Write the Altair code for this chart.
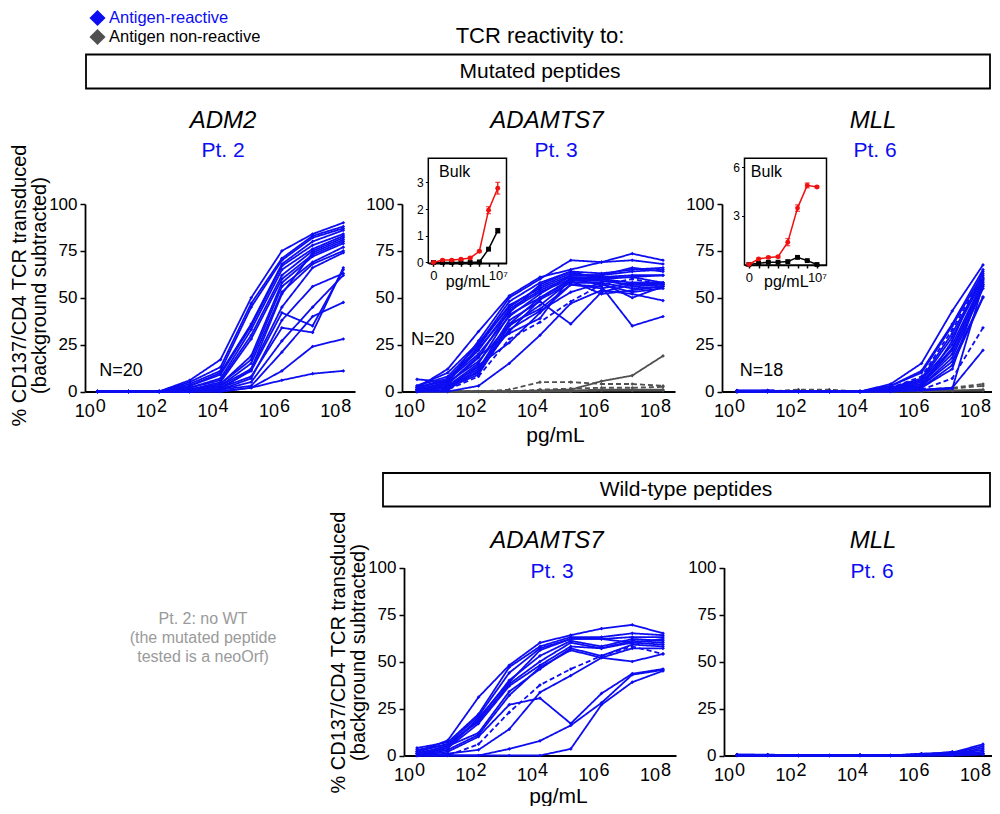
import altair as alt
import pandas as pd

FONT = "Liberation Sans"
BLUE = "#0d0df2"
GRAY = "#505050"
W, H = 984, 798

EXPS = [0, 1, 2, 3, 4, 5, 6, 7, 8]          # concentration 10^e pg/mL
LABEL_EXPS = [0, 2, 4, 6, 8]

# ---------------- Mutated ADM2, Pt. 2 -----------------
ADM2_MUT = [
    [0, 0, 0, 6, 17, 50, 75, 84, 90],
    [0, 0, 0, 5, 13, 47, 71, 83, 88],
    [0, 0, 0, 4, 11, 45, 70, 82, 87],
    [0, 0, 0, 3, 10, 36, 68, 80, 86],
    [0, 0, 0, 3, 9, 35, 67, 78, 84],
    [0, 0, 0, 2, 7, 33, 65, 76, 83],
    [0, 0, 0, 2, 6, 30, 62, 75, 82],
    [0, 0, 0, 1, 5, 28, 60, 73, 80],
    [0, 0, 0, 1, 4, 19, 58, 72, 79],
    [0, 0, 0, 1, 4, 17, 56, 69, 77],
    [0, 0, 0, 1, 3, 15, 53, 68, 75],
    [0, 0, 0, 0, 3, 12, 45, 66, 74],
    [0, 0, 0, 0, 2, 11, 42, 35, 65],
    [0, 0, 0, 0, 2, 8, 34, 31.5, 66],
    [0, 0, 0, 0, 1, 7, 38, 56, 63],
    [0, 0, 0, 0, 1, 5, 27, 45, 62],
    [0, 0, 0, 0, 1, 3, 21, 40, 47.5],
    [0, 0, 0, 0, 0, 2, 11, 24, 28],
    [0, 0, 0, 0, 0, 2, 6, 9.5, 11],
    [0, 0, 0, 0, 1, 12, 52, 74, 81],
]
ADM2_MUT_DASH = [False] * 20

# ---------------- Mutated ADAMTS7, Pt. 3 -----------------
ADAMTS7_MUT = [
    [2, 12, 32, 51, 61, 65, 69, 73.5, 70],
    [6.5, 5, 27, 50, 60, 70, 69, 70, 68],
    [3, 8, 25, 48, 58, 64, 63, 65, 66],
    [1, 5, 24, 46, 55, 62, 62, 64, 65],
    [2, 6, 22, 44, 54, 61, 61, 61, 62],
    [1, 4, 18, 43, 53, 60, 60, 58, 58],
    [0, 3, 15, 41, 50, 59, 59, 57, 57.5],
    [1, 2, 12, 38, 48, 36, 53, 57, 57],
    [0, 1, 11, 36, 44, 57, 56, 35, 40],
    [1, 3, 10, 33, 43, 53, 58, 55, 56],
    [0, 1, 8, 28, 37, 48, 57, 60, 57],
    [0, 0, 3, 15, 30, 47, 54, 52, 48.5],
    [2, 6, 20, 40, 52, 62, 62, 66, 64],
    [1, 5, 16, 36, 50, 60, 57, 53, 55],
    [0, 3, 13, 32, 49, 58, 58, 50, 56],
    [3, 10, 26, 45, 56, 63, 61, 62, 62],
    [1, 4, 19, 31, 39, 61, 60, 56, 57],
    [0, 2, 14, 26, 42, 57, 55, 58, 58],
    [2, 7, 23, 42, 57, 64, 60, 61, 58],
    [1, 2, 9, 35, 46, 59, 52, 54, 56],
]
ADAMTS7_MUT_DASH = [False] * 10 + [True] + [False] * 9
ADAMTS7_MUT_NR = [
    [0, 0, 0, 0, 0.5, 1, 5.5, 8.5, 19],
    [0, 0, 0, 1, 5, 5, 4, 4, 3],
    [0, 0, 0, 0, 1, 1.5, 2, 2, 2.5],
    [0, 0, 0, 0, 0, 0.5, 1, 1, 1],
    [0, 0, 0, 0, 0, 0, 0.5, 0.5, 0.5],
]
ADAMTS7_MUT_NR_DASH = [False, True, True, False, False]

# ---------------- Mutated MLL, Pt. 6 -----------------
MLL_MUT = [
    [0.5, 0.5, 0, 0, 0, 4, 15, 43, 67.5],
    [0.5, 0.5, 0, 0, 0, 3, 11, 36, 65],
    [0.5, 0.5, 0, 0, 0, 3, 10, 35, 63],
    [0, 0.5, 0, 0, 0, 2, 8, 33, 62],
    [0, 0, 0, 0, 0, 2, 7, 31, 61],
    [0, 0, 0, 0, 0, 2, 6, 29, 60],
    [0, 0, 0, 0, 0, 1, 6, 25, 59],
    [0, 0, 0, 0, 0, 1, 5, 23, 58],
    [0, 0, 0, 0, 0, 1, 4, 22, 57],
    [0, 0, 0, 0, 0, 1, 4, 20, 56],
    [0, 0, 0, 0, 0, 1, 3, 18, 55],
    [0, 0, 0, 0, 0, 0.5, 3, 16, 50.5],
    [0, 0, 0, 0, 0, 0.5, 2, 14, 50],
    [0, 0, 0, 0, 0, 0.5, 2, 12, 60],
    [0, 0, 0, 0, 0, 0.5, 1, 7, 34],
    [0, 0, 0, 0, 0, 0, 1, 2, 22],
    [0, 0, 0, 0, 0, 0, 0.5, 1.5, 57],
    [0, 0, 0, 0, 0, 0.5, 2, 27, 64],
]
MLL_MUT_DASH = [False, False, False, True] + [False] * 10 + [True] + [False] * 3
MLL_MUT_NR = [
    [0, 0, 1, 1, 0, 0.5, 1, 2, 4],
    [0, 0, 0.5, 0.5, 0, 0.5, 0.5, 1.5, 3],
    [0, 0, 0, 0, 0, 0, 0.5, 0.5, 1],
    [0, 0, 0, 0, 0, 0, 0, 0.5, 0.5],
]
MLL_MUT_NR_DASH = [True, True, False, False]

# ---------------- Wild-type ADAMTS7, Pt. 3 -----------------
ADAMTS7_WT = [
    [2, 8, 31, 48, 60, 64, 67.5, 69.5, 65],
    [4, 7, 22, 47, 58, 63, 63, 65, 64],
    [3, 6, 21, 44, 57, 62, 62, 63, 63],
    [1, 5, 19, 40, 53, 61, 58, 62, 61],
    [2, 6, 18, 38, 50, 60, 57, 61, 60],
    [0, 4, 17, 37, 48, 58, 57, 60, 59],
    [1, 5, 12, 34, 46, 57, 53, 59, 58],
    [0, 3, 11, 32, 47, 56, 52, 57, 57],
    [0, 2, 10, 27, 30.5, 17, 33, 43.5, 46],
    [0, 0, 6, 23, 37.5, 46, 53, 58, 54],
    [0, 1, 3, 14, 33.6, 42.5, 52, 50, 54],
    [0, 0, 0, 3.5, 7.8, 16, 28, 43, 45.5],
    [0, 0, 0, 0, 0, 3.5, 27, 39, 45],
    [1, 4, 20, 39, 56, 62, 62, 60, 62],
]
ADAMTS7_WT_DASH = [False] * 9 + [True] + [False] * 4

# ---------------- Wild-type MLL, Pt. 6 -----------------
MLL_WT = [
    [0.5, 0.5, 0, 0, 0.3, 0, 1, 1.5, 6],
    [0.3, 0.3, 0, 0, 0.3, 0, 0.8, 1, 5],
    [0.5, 0.3, 0, 0, 0.2, 0, 0.5, 0.5, 4],
    [0, 0, 0, 0, 0, 0, 0.5, 0.5, 3],
    [0, 0, 0, 0, 0, 0, 0.3, 0.3, 2],
    [0, 0, 0, 0, 0, 0, 0, 0.3, 1],
    [0, 0, 0, 0, 0, 0, 0, 0, 0.5],
    [0, 0, 0, 0, 0, 0, 0.5, 2, 1],
]
MLL_WT_DASH = [False] * 8

# ---------------- Bulk insets (index 0 = 0 pg/mL, 1..7 = 10^1..10^7) -----------------
INSET_IDX = [0, 1, 2, 3, 4, 5, 6, 7]
PT3_RED = [0.0, 0.09, 0.09, 0.12, 0.17, 0.42, 1.96, 2.78]
PT3_RED_ERR = [0, 0.02, 0.02, 0.02, 0.03, 0.03, 0.13, 0.22]
PT3_BLACK = [0.0, 0.0, 0.0, 0.0, 0.0, 0.02, 0.5, 1.19]
PT3_BLACK_ERR = [0, 0, 0, 0, 0, 0, 0.04, 0.08]
PT6_RED = [0.0, 0.34, 0.44, 0.48, 1.38, 3.48, 4.88, 4.78]
PT6_RED_ERR = [0, 0.05, 0.05, 0.06, 0.22, 0.2, 0.15, 0.05]
PT6_BLACK = [0.0, 0.08, 0.14, 0.14, 0.18, 0.44, 0.24, 0.0]
PT6_BLACK_ERR = [0, 0, 0, 0, 0, 0.03, 0.03, 0]


def long_df(lines, dashed, tag):
    rows = []
    for i, (vals, d) in enumerate(zip(lines, dashed)):
        for e, v in zip(EXPS, vals):
            rows.append(dict(id=f"{tag}{i}", x=10.0 ** e, y=v, dash="dash" if d else "solid"))
    return pd.DataFrame(rows)


DASH_SCALE = alt.Scale(domain=["solid", "dash"], range=[[1, 0], [5, 3]])


def panel(blue, blue_dash, gray, gray_dash, geo, ytitle=None, ytitle_y=None,
          xtitle=None, xtitle_x=None, xtitle_y=None, ntext=None):
    L, p0, p8, R, y0, y100 = geo
    k = (p8 - p0) / 8.0
    xs = alt.Scale(type="log", domain=[10 ** (-(p0 - L) / k), 10 ** (8 + (R - p8) / k)],
                   range=[L - 8, R - 8], nice=False)
    ys = alt.Scale(domain=[0, 100], range=[y0 - 8, y100 - 8], nice=False, zero=False)
    xaxis_kw = dict(orient="bottom", offset=(y0 - 8) - H, labels=False, ticks=False, grid=False,
                    domainColor="black", domainWidth=1.8)
    if xtitle:
        xaxis_kw.update(title=xtitle, titleFontSize=21, titleFontWeight="normal", titleColor="black",
                        titleX=xtitle_x - 8, titleY=xtitle_y, titleBaseline="alphabetic",
                        titleAlign="center")
    else:
        xaxis_kw.update(title=None)
    yaxis_kw = dict(orient="left", offset=-(L - 8), values=[0, 25, 50, 75, 100], grid=False,
                    domainColor="black", domainWidth=1.8, tickColor="black", tickWidth=1.5,
                    tickSize=5, labelFontSize=17, labelColor="black", labelPadding=3)
    if ytitle:
        yaxis_kw.update(title=ytitle, titleFontSize=20, titleFontWeight="normal", titleColor="black",
                        titlePadding=-1, titleLineHeight=20, titleY=ytitle_y - 8, titleAlign="center")
    else:
        yaxis_kw.update(title=None)

    X = alt.X("x:Q", scale=xs, axis=alt.Axis(**xaxis_kw))
    Y = alt.Y("y:Q", scale=ys, axis=alt.Axis(**yaxis_kw))
    Xn = alt.X("x:Q", scale=xs)
    Yn = alt.Y("y:Q", scale=ys)

    layers = []
    bdf = long_df(blue, blue_dash, "b")
    # axis carrier (invisible) first
    layers.append(alt.Chart(bdf).mark_point(opacity=0).encode(x=X, y=Y))
    if gray:
        gdf = long_df(gray, gray_dash, "g")
        layers.append(alt.Chart(gdf).mark_line(strokeWidth=1.8, color=GRAY).encode(
            x=Xn, y=Yn, detail="id:N",
            strokeDash=alt.StrokeDash("dash:N", scale=DASH_SCALE, legend=None)))
        layers.append(alt.Chart(gdf).mark_point(shape="diamond", filled=True, size=14, opacity=1,
                                                color=GRAY).encode(x=Xn, y=Yn))
    layers.append(alt.Chart(bdf).mark_line(strokeWidth=1.8, color=BLUE).encode(
        x=Xn, y=Yn, detail="id:N",
        strokeDash=alt.StrokeDash("dash:N", scale=DASH_SCALE, legend=None)))
    layers.append(alt.Chart(bdf).mark_point(shape="diamond", filled=True, size=14, opacity=1,
                                            color=BLUE).encode(x=Xn, y=Yn))
    # custom tick labels 10^e
    ldf = pd.DataFrame({"x": [10.0 ** e for e in LABEL_EXPS], "y": [0] * len(LABEL_EXPS),
                        "base": ["10"] * len(LABEL_EXPS), "exp": [str(e) for e in LABEL_EXPS]})
    layers.append(alt.Chart(ldf).mark_text(fontSize=18, align="center", baseline="alphabetic",
                                           dx=-13, dy=25, color="black").encode(x=Xn, y=Yn, text="base:N"))
    layers.append(alt.Chart(ldf).mark_text(fontSize=18, align="center", baseline="alphabetic",
                                           dx=3, dy=20, color="black").encode(x=Xn, y=Yn, text="exp:N"))
    if ntext:
        txt, nx, ny = ntext
        ndf = pd.DataFrame({"x": [nx], "y": [ny], "t": [txt]})
        layers.append(alt.Chart(ndf).mark_text(fontSize=18, align="left", baseline="middle",
                                               color="black").encode(x=Xn, y=Yn, text="t:N"))
    return alt.layer(*layers)


def inset(red, red_err, black, black_err, geo, yvals, bulk_xy, title_xy):
    xL, xR, yB, yT, xdom, ydom = geo
    xs = alt.Scale(domain=xdom, range=[xL - 8, xR - 8], nice=False, zero=False)
    ys = alt.Scale(domain=ydom, range=[yB - 8, yT - 8], nice=False, zero=False)
    X = alt.X("x:Q", scale=xs, axis=alt.Axis(
        orient="bottom", offset=(yB - 8) - H, values=INSET_IDX, grid=False,
        domainColor="black", domainWidth=1.5, tickColor="black", tickSize=3, tickWidth=1.5,
        labelFontSize=13, labelColor="black", labelPadding=3,
        labelExpr="datum.value == 0 ? '0' : (datum.value == 7 ? '10\u2077' : '')",
        title="pg/mL", titleFontSize=16, titleFontWeight="normal", titleColor="black",
        titleX=title_xy[0] - 8, titleY=title_xy[1], titleBaseline="alphabetic", titleAlign="center"))
    Y = alt.Y("y:Q", scale=ys, axis=alt.Axis(
        orient="left", offset=-(xL - 8), values=yvals, format="d", grid=False, domainColor="black",
        domainWidth=1.5, tickColor="black", tickSize=3, tickWidth=1, labelFontSize=12,
        labelColor="black", labelPadding=2, title=None))
    Xn = alt.X("x:Q", scale=xs)
    Yn = alt.Y("y:Q", scale=ys)
    box = pd.DataFrame({"x": [xdom[0]], "x2": [xdom[1]], "y": [ydom[0]], "y2": [ydom[1]]})
    layers = [alt.Chart(box).mark_rect(fill="white", stroke="black", strokeWidth=1.5).encode(
        x=X, x2="x2:Q", y=Y, y2="y2:Q")]
    for vals, errs, col, shape in [(black, black_err, "black", "square"), (red, red_err, "#f01010", "circle")]:
        df = pd.DataFrame({"x": INSET_IDX, "y": vals,
                           "lo": [v - e for v, e in zip(vals, errs)],
                           "hi": [v + e for v, e in zip(vals, errs)]})
        layers.append(alt.Chart(df).mark_line(strokeWidth=1.5, color=col).encode(x=Xn, y=Yn))
        layers.append(alt.Chart(df).mark_rule(strokeWidth=1.3, color=col).encode(x=Xn, y=alt.Y("lo:Q", scale=ys), y2="hi:Q"))
        layers.append(alt.Chart(df).mark_tick(orient="horizontal", size=5, thickness=1.3, color=col).encode(
            x=Xn, y=alt.Y("hi:Q", scale=ys)))
        layers.append(alt.Chart(df).mark_tick(orient="horizontal", size=5, thickness=1.3, color=col).encode(
            x=Xn, y=alt.Y("lo:Q", scale=ys)))
        layers.append(alt.Chart(df).mark_point(shape=shape, filled=True, size=24, opacity=1, color=col).encode(
            x=Xn, y=Yn))
    bdf = pd.DataFrame({"x": [bulk_xy[0]], "y": [bulk_xy[1]], "t": ["Bulk"]})
    layers.append(alt.Chart(bdf).mark_text(fontSize=16, align="left", baseline="middle", color="black").encode(
        x=Xn, y=Yn, text="t:N"))
    return alt.layer(*layers)


def text(t, x, y, size, color="black", italic=False, align="center"):
    df = pd.DataFrame({"t": [t]})
    return alt.Chart(df).mark_text(fontSize=size, color=color, align=align, baseline="middle",
                                   fontStyle="italic" if italic else "normal",
                                   lineBreak="\n", lineHeight=19).encode(
        x=alt.value(x - 8), y=alt.value(y - 8), text="t:N")


def frame(x1, x2, y1, y2):
    df = pd.DataFrame({"a": [0]})
    return alt.Chart(df).mark_rect(fill="white", stroke="black", strokeWidth=1.8).encode(
        x=alt.value(x1 - 8), x2=alt.value(x2 - 8), y=alt.value(y1 - 8), y2=alt.value(y2 - 8))


def diamond(x, y, color):
    df = pd.DataFrame({"a": [0]})
    return alt.Chart(df).mark_point(shape="diamond", filled=True, size=260, opacity=1, color=color).encode(
        x=alt.value(x - 8), y=alt.value(y - 8))


YT = ["% CD137/CD4 TCR transduced", "(background subtracted)"]
TOP = (391.5, 204)
BOT = (755.5, 567.5)

p1 = panel(ADM2_MUT, ADM2_MUT_DASH, None, None, (85, 97.7, 343.3, 355) + TOP,
           ytitle=YT, ytitle_y=285, ntext=("N=20", 1.12, 10.9))
p2 = panel(ADAMTS7_MUT, ADAMTS7_MUT_DASH, ADAMTS7_MUT_NR, ADAMTS7_MUT_NR_DASH,
           (402, 417, 663, 675) + TOP, xtitle="pg/mL", xtitle_x=555, xtitle_y=50,
           ntext=("N=20", 0.64, 27.5))
p3 = panel(MLL_MUT, MLL_MUT_DASH, MLL_MUT_NR, MLL_MUT_NR_DASH,
           (722, 737, 983, 995) + TOP, ntext=("N=18", 1.22, 11.1))
p4 = panel(ADAMTS7_WT, ADAMTS7_WT_DASH, None, None, (404, 417, 663, 676) + BOT,
           ytitle=YT, ytitle_y=652, xtitle="pg/mL", xtitle_x=558, xtitle_y=47)
p5 = panel(MLL_WT, MLL_WT_DASH, None, None, (724, 737, 983, 995) + BOT)

i3 = inset(PT3_RED, PT3_RED_ERR, PT3_BLACK, PT3_BLACK_ERR,
           (428.3, 506.5, 263.3, 158.3, [-0.55, 7.95], [-0.03, 3.9]), [0, 1, 2, 3],
           (0.62, 3.38), (467.5, 23.4))
i6 = inset(PT6_RED, PT6_RED_ERR, PT6_BLACK, PT6_BLACK_ERR,
           (744.5, 826.5, 265, 158.3, [-0.45, 7.98], [-0.03, 6.55]), [3, 6],
           (0.2, 5.7), (785.8, 21.7))

deco = [
    diamond(97.5, 18, BLUE), text("Antigen-reactive", 109, 18, 16.5, BLUE, align="left"),
    diamond(97.5, 37, GRAY), text("Antigen non-reactive", 109, 37, 16.5, "black", align="left"),
    text("TCR reactivity to:", 540, 36, 22),
    frame(86, 990, 54.5, 88.5), text("Mutated peptides", 540, 72, 21),
    text("ADM2", 223, 121, 24, italic=True), text("Pt. 2", 223, 151, 21, BLUE),
    text("ADAMTS7", 547, 121, 24, italic=True), text("Pt. 3", 556, 151, 21, BLUE),
    text("MLL", 873, 121, 24, italic=True), text("Pt. 6", 875, 151, 21, BLUE),
    frame(383, 990, 473, 506.5), text("Wild-type peptides", 686, 490, 21),
    text("ADAMTS7", 547, 541, 24, italic=True), text("Pt. 3", 552, 572, 21, BLUE),
    text("MLL", 873, 541, 24, italic=True), text("Pt. 6", 872, 572, 21, BLUE),
    text("Pt. 2: no WT\n(the mutated peptide\ntested is a neoOrf)", 203, 619, 16, "#9a9a9a"),
]

chart = alt.layer(p1, p2, p3, p4, p5, i3, i6, *deco).resolve_scale(
    x="independent", y="independent"
).properties(
    width=W, height=H, padding=0, autosize=alt.AutoSizeParams(type="none")
).configure(font=FONT).configure_view(strokeWidth=0)

chart.save("out.html", embed_options={"renderer": "svg", "actions": False})
